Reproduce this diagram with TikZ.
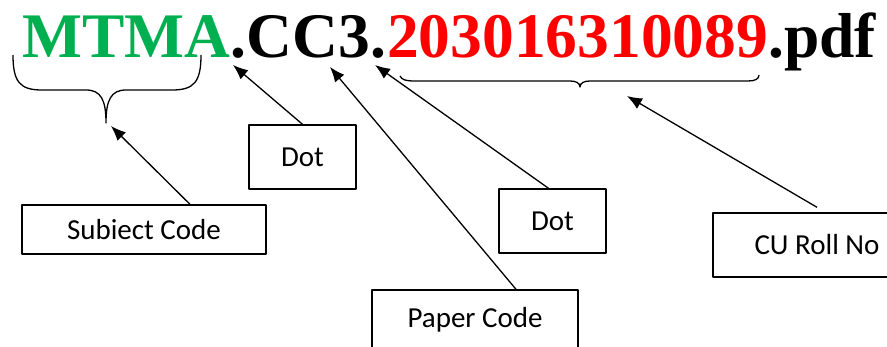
\documentclass[tikz,border=0pt]{standalone}
\usepackage{fontspec}
\setmainfont{Liberation Serif}
\newfontfamily\boxfont{Carlito}
\usetikzlibrary{arrows.meta,positioning,calc}
\definecolor{codegreen}{RGB}{0,176,80}
\definecolor{codered}{RGB}{255,0,0}

\begin{document}
\begin{tikzpicture}[x=1pt,y=-1pt,>={Latex[length=15pt,width=12pt]},line join=round,
  part/.style={inner sep=0pt,anchor=base west,font=\fontsize{63.5}{70}\selectfont\bfseries},
  label/.style={draw,line width=1.4pt,inner sep=0pt,font=\boxfont\fontsize{29}{34}\selectfont},
  pointer/.style={->,line width=1.3pt}]
\useasboundingbox (0,0) rectangle (887,347);
% file name
\node [part,text=codegreen] at (22,58) (subj) {MTMA};
\node [part] at (subj.base east) (dotA) {.};
\node [part] at (dotA.base east) (paper) {CC3};
\node [part] at (paper.base east) (dotB) {.};
\node [part,text=codered] at (dotB.base east) (roll) {203016310089};
\node [part] at (roll.base east) (ext) {.pdf};

% braces
\draw [line width=1.3pt] (13,55) .. controls (13,82) and (20,90) .. (42,90) -- (86,90)
  .. controls (101,90) and (106,100) .. (106,123)
  .. controls (106,100) and (111,90) .. (126,90) -- (172,90)
  .. controls (194,90) and (201,82) .. (201,55);
\draw [line width=1.3pt] (400,76) .. controls (402,80) and (406,81) .. (415,81) -- (570,81)
  .. controls (576,81) and (580,83) .. (580,87)
  .. controls (580,83) and (584,81) .. (590,81) -- (748,81)
  .. controls (755,81) and (759,79) .. (759,75);

% labels
\node [label,minimum width=244pt,minimum height=49pt] at (144,229.5) (subjbox) {Subiect Code};
\node [label,minimum width=107pt,minimum height=64pt] at (302.5,157) (dotboxA) {Dot};
\node [label,minimum width=107pt,minimum height=64pt] at (552.5,221) (dotboxB) {Dot};
\node [label,minimum width=206pt,minimum height=60pt] at (475,320) (paperbox) {Paper Code};
\node [label,minimum width=208pt,minimum height=64pt] at (817,245) (rollbox) {CU Roll No};

\coordinate (subjtip) at (111,126);
\coordinate (dotAtip) at (233,65);
\coordinate (papertip) at (330,67);
\coordinate (dotBtip) at (375,65);
\coordinate (rolltip) at (627,96);

\draw [pointer] ([xshift=46pt]subjbox.north) -- (subjtip);
\draw [pointer] (dotboxA.north) -- (dotAtip);
\draw [pointer] ([xshift=41pt]paperbox.north) -- (papertip);
\draw [pointer] ([xshift=-4pt]dotboxB.north) -- (dotBtip);
\draw [pointer] ([yshift=5pt]rollbox.north) -- (rolltip);
\end{tikzpicture}
\end{document}
